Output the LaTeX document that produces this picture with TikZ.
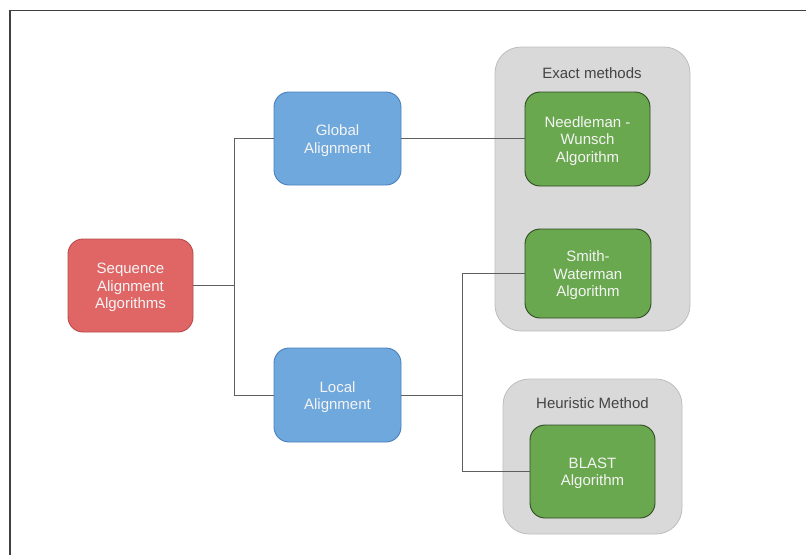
\documentclass[tikz,border=0pt]{standalone}
\usepackage{fontspec}
\setmainfont{Liberation Sans}
\begin{document}
\definecolor{rootfill}{HTML}{E06666}
\definecolor{rootline}{HTML}{B84A4A}
\definecolor{midfill}{HTML}{6FA8DC}
\definecolor{midline}{HTML}{4A80BD}
\definecolor{leaffill}{HTML}{6AA84F}
\definecolor{leafline}{HTML}{2F4A22}
\definecolor{groupfill}{HTML}{D9D9D9}
\definecolor{groupline}{HTML}{BDBDBD}
\definecolor{grouptext}{HTML}{444444}
\definecolor{boxtext}{HTML}{F4F4F4}
\definecolor{wire}{HTML}{5F5F5F}
\begin{tikzpicture}[x=1pt,y=-1pt,
  box/.style={rounded corners=15pt, line width=0.9pt},
  boxtxt/.style={align=center, text=boxtext, font=\fontsize{15}{17.5}\selectfont,
    inner sep=0pt, yshift=-2pt},
  rootbox/.style={box, fill=rootfill, draw=rootline},
  midbox/.style={box, fill=midfill, draw=midline},
  leafbox/.style={box, fill=leaffill, draw=leafline},
  groupbox/.style={rounded corners=26pt, fill=groupfill, draw=groupline, line width=0.8pt},
  grouplabel/.style={text=grouptext, font=\fontsize{15}{17.5}\selectfont},
  wirestyle/.style={draw=wire, line width=1pt}]
\useasboundingbox (0,0) rectangle (806,555);

% outer frame (top and left edges)
\draw[draw=black!75, line width=1.6pt] (10,555) -- (10,10.5) -- (806,10.5);

% group backgrounds
\node[groupbox, minimum width=195pt, minimum height=284pt] (exact) at (592.5,189) {};
\node[groupbox, minimum width=179pt, minimum height=155pt] (heur) at (592.5,456.5) {};
\node[grouplabel] (exactlbl) at (592,73) {Exact methods};
\node[grouplabel] (heurlbl) at (592.5,403) {Heuristic Method};

% boxes, with their captions set as centred labels
\node[rootbox, minimum width=125pt, minimum height=93pt,
  label={[boxtxt]center:Sequence\\Alignment\\Algorithms}] (root) at (130.5,285.5) {};
\node[midbox, minimum width=127pt, minimum height=93pt,
  label={[boxtxt]center:Global\\Alignment}] (global) at (337.5,138.5) {};
\node[midbox, minimum width=127pt, minimum height=94pt,
  label={[boxtxt]center:Local\\Alignment}] (local) at (337.5,395) {};
\node[leafbox, minimum width=125pt, minimum height=94pt,
  label={[boxtxt]center:Needleman -\\Wunsch\\Algorithm}] (nw) at (587.5,139) {};
\node[leafbox, minimum width=126pt, minimum height=89pt,
  label={[boxtxt]center:Smith-\\Waterman\\Algorithm}] (sw) at (588,273.5) {};
\node[leafbox, minimum width=125pt, minimum height=93pt,
  label={[boxtxt]center:BLAST\\Algorithm}] (blast) at (592.5,471.5) {};

% connectors
\coordinate (j1) at (234,285.5);
\coordinate (j2) at (462,395);
\draw[wirestyle] (root.east) -- (j1);
\draw[wirestyle] (j1) |- (global.west);
\draw[wirestyle] (j1) |- (local.west);
\draw[wirestyle] (global.east) -- (global.east -| nw.west);
\draw[wirestyle] (local.east) -- (j2);
\draw[wirestyle] (j2) |- (sw.west);
\draw[wirestyle] (j2) |- (blast.west);
\end{tikzpicture}
\end{document}
